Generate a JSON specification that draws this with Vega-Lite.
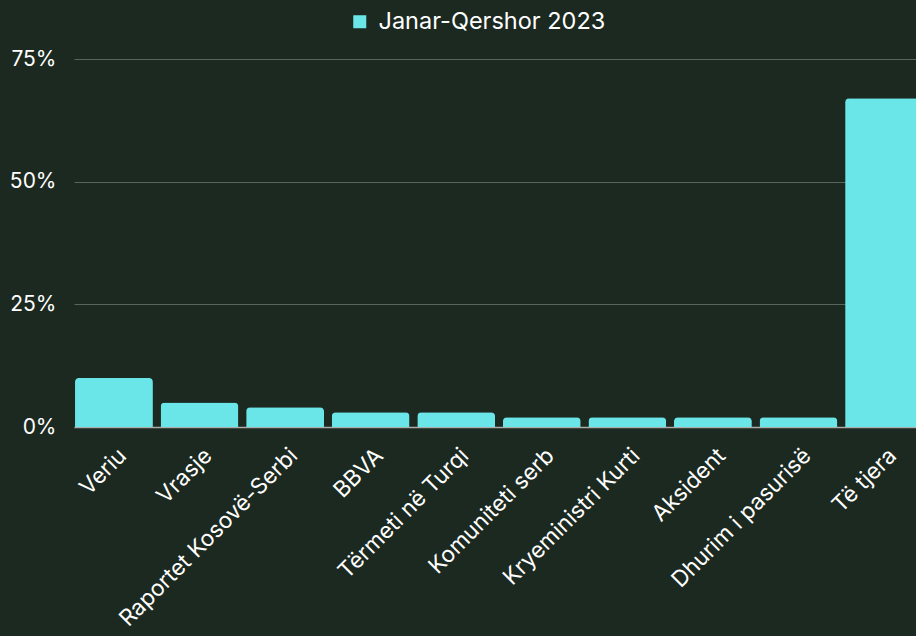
{
  "$schema": "https://vega.github.io/schema/vega-lite/v6.json",
  "width": 842,
  "height": 368,
  "autosize": {"type": "none"},
  "padding": {"left": 74, "top": 59, "right": 0, "bottom": 209},
  "background": "#1c2920",
  "data": {
    "values": [
      {"tema": "Veriu", "vlera": 10, "seria": "Janar-Qershor 2023"},
      {"tema": "Vrasje", "vlera": 5, "seria": "Janar-Qershor 2023"},
      {"tema": "Raportet Kosovë-Serbi", "vlera": 4, "seria": "Janar-Qershor 2023"},
      {"tema": "BBVA", "vlera": 3, "seria": "Janar-Qershor 2023"},
      {"tema": "Tërmeti në Turqi", "vlera": 3, "seria": "Janar-Qershor 2023"},
      {"tema": "Komuniteti serb", "vlera": 2, "seria": "Janar-Qershor 2023"},
      {"tema": "Kryeministri Kurti", "vlera": 2, "seria": "Janar-Qershor 2023"},
      {"tema": "Aksident", "vlera": 2, "seria": "Janar-Qershor 2023"},
      {"tema": "Dhurim i pasurisë", "vlera": 2, "seria": "Janar-Qershor 2023"},
      {"tema": "Të tjera", "vlera": 67, "seria": "Janar-Qershor 2023"}
    ]
  },
  "mark": {"type": "bar", "cornerRadiusTopLeft": 4, "cornerRadiusTopRight": 4},
  "encoding": {
    "x": {
      "field": "tema",
      "type": "nominal",
      "sort": null,
      "title": null,
      "scale": {"range": [0, 850], "paddingInner": 0.09, "paddingOuter": 0.012},
      "axis": {
        "labelAngle": -45,
        "labelAlign": "right",
        "labelBaseline": "top",
        "labelColor": "#ffffff",
        "labelFont": "Inter",
        "labelFontSize": 22.5,
        "labelPadding": 17,
        "labelOffset": 1,
        "labelLimit": 400,
        "ticks": false,
        "domainColor": "#a9aca9",
        "domainWidth": 1.5,
        "grid": false
      }
    },
    "y": {
      "field": "vlera",
      "type": "quantitative",
      "title": null,
      "scale": {"domain": [0, 75]},
      "axis": {
        "values": [0, 25, 50, 75],
        "labelExpr": "datum.value + '%'",
        "labelColor": "#ffffff",
        "labelFont": "Inter",
        "labelFontSize": 21,
        "labelPadding": 18,
        "ticks": false,
        "domain": false,
        "gridColor": "#55665b",
        "gridWidth": 1
      }
    },
    "color": {
      "field": "seria",
      "type": "nominal",
      "scale": {"range": ["#6ae6e8"]},
      "legend": {
        "title": null,
        "orient": "none",
        "legendX": 274,
        "legendY": -49,
        "symbolType": "square",
        "symbolSize": 169,
        "symbolStrokeWidth": 0,
        "labelColor": "#ffffff",
        "labelFont": "Inter",
        "labelFontSize": 23.5,
        "labelOffset": 7,
        "labelLimit": 400
      }
    }
  },
  "config": {"view": {"stroke": null}}
}
